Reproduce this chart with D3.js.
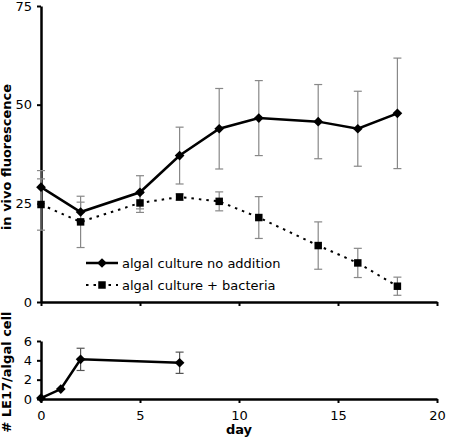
<!DOCTYPE html>
<html><head><meta charset="utf-8">
<script src="https://cdn.jsdelivr.net/npm/d3@7"></script>
<style>body{margin:0;background:#fff}svg{display:block}text{font-family:"DejaVu Sans",Verdana,sans-serif}</style>
</head><body><svg id="c" width="450" height="437"></svg>
<script>
const days = [0, 2, 5, 7, 9, 11, 14, 16, 18];
const noAddition = [29.1, 22.8, 27.8, 37.1, 43.9, 46.6, 45.7, 43.9, 47.8];
const noAdditionErr = [4.2, 2.5, 4.2, 7.2, 10.2, 9.5, 9.4, 9.5, 14.0];
const withBacteria = [24.7, 20.3, 25.1, 26.6, 25.5, 21.4, 14.3, 9.9, 4.0];
const withBacteriaErr = [6.5, 6.5, 2.4, 0.8, 2.4, 5.3, 6.0, 3.7, 2.3];
const cellDays = [0, 1, 2, 7];
const cellRatio = [0.1, 1.03, 4.1, 3.75];
const cellErr = [0, 0, 1.15, 1.1];
const topTicks = [0, 25, 50, 75];
const bottomTicks = [0, 2, 4, 6];
const xTicks = [0, 5, 10, 15, 20];
const legendLabels = ["algal culture no addition", "algal culture + bacteria"];

const svg = d3.select("#c");
const x = d3.scaleLinear().domain([0, 20]).range([41, 437]);
const yTop = d3.scaleLinear().domain([0, 75]).range([302, 6]);
const yBot = d3.scaleLinear().domain([0, 6]).range([399, 341]);

function axisStyle(g){
  g.select(".domain").attr("stroke","#000").attr("stroke-width",2.5);
  g.selectAll(".tick line").attr("stroke","#000").attr("stroke-width",2);
  g.selectAll(".tick text").attr("font-size",13).attr("fill","#000")
    .attr("font-family","'DejaVu Sans',Verdana,sans-serif");
}
// top chart axes
svg.append("g").attr("transform","translate(0,302)")
  .call(d3.axisBottom(x).tickValues(xTicks).tickSize(4).tickSizeOuter(0).tickFormat(""))
  .call(axisStyle);
svg.append("g").attr("transform","translate(41,0)")
  .call(d3.axisLeft(yTop).tickValues(topTicks).tickSize(4).tickSizeOuter(0).tickPadding(5).tickFormat(d3.format("d")))
  .call(axisStyle);
// bottom chart axes
svg.append("g").attr("transform","translate(0,399)")
  .call(d3.axisBottom(x).tickValues(xTicks).tickSize(4).tickSizeOuter(0).tickPadding(8).tickFormat(d3.format("d")))
  .call(axisStyle);
svg.append("g").attr("transform","translate(41,0)")
  .call(d3.axisLeft(yBot).tickValues(bottomTicks).tickSize(4).tickSizeOuter(0).tickPadding(5).tickFormat(d3.format("d")))
  .call(axisStyle);

function errBars(xs, ys, es, y, color){
  const g = svg.append("g").attr("stroke", color).attr("stroke-width",1.2);
  xs.forEach((d,i)=>{
    if(!es[i]) return;
    const X = x(d), a = y(ys[i]+es[i]), b = y(ys[i]-es[i]);
    g.append("line").attr("x1",X).attr("x2",X).attr("y1",a).attr("y2",b);
    g.append("line").attr("x1",X-4).attr("x2",X+4).attr("y1",a).attr("y2",a);
    g.append("line").attr("x1",X-4).attr("x2",X+4).attr("y1",b).attr("y2",b);
  });
}
errBars(days, noAddition, noAdditionErr, yTop, "#888");
errBars(days, withBacteria, withBacteriaErr, yTop, "#888");
errBars(cellDays, cellRatio, cellErr, yBot, "#555");

const diamond = d3.symbol().type(d3.symbolDiamond2).size(60);
const square = d3.symbol().type(d3.symbolSquare).size(56);

function series(xs, ys, y, dash, sym){
  const line = d3.line().x((d,i)=>x(xs[i])).y(d=>y(d));
  svg.append("path").attr("d", line(ys)).attr("fill","none").attr("stroke","#000")
    .attr("stroke-width", dash ? 2 : 2.5).attr("stroke-dasharray", dash || null);
  svg.append("g").selectAll("path").data(ys).join("path")
    .attr("transform",(d,i)=>`translate(${x(xs[i])},${y(d)})`).attr("d", sym).attr("fill","#000");
}
series(days, noAddition, yTop, null, diamond);
series(days, withBacteria, yTop, "2.5,5", square);
series(cellDays, cellRatio, yBot, null, diamond);

// legend
const leg = [{y:263, dash:null, sym:diamond, w:2.5}, {y:285, dash:"2.5,5", sym:square, w:2}];
leg.forEach((l,i)=>{
  svg.append("line").attr("x1",86).attr("x2",118).attr("y1",l.y).attr("y2",l.y)
    .attr("stroke","#000").attr("stroke-width",l.w).attr("stroke-dasharray",l.dash);
  svg.append("path").attr("transform",`translate(102,${l.y})`).attr("d",l.sym).attr("fill","#000");
  svg.append("text").attr("x",122).attr("y",l.y+4.5).attr("font-size",13).text(legendLabels[i]);
});

// axis titles
svg.append("text").attr("transform","translate(11,157) rotate(-90)").attr("text-anchor","middle")
  .attr("font-size",13).attr("font-weight","bold").text("in vivo fluorescence");
svg.append("text").attr("transform","translate(11,372) rotate(-90)").attr("text-anchor","middle")
  .attr("font-size",13).attr("font-weight","bold").text("# LE17/algal cell");
svg.append("text").attr("x",239).attr("y",434).attr("text-anchor","middle")
  .attr("font-size",13).attr("font-weight","bold").text("day");
</script></body></html>
